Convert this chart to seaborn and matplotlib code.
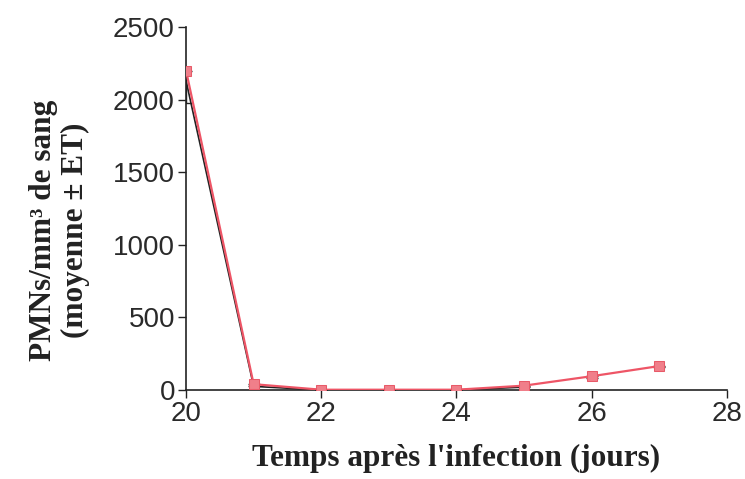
import matplotlib
matplotlib.use("Agg")
import matplotlib.pyplot as plt
import seaborn as sns
import pandas as pd
import numpy as np

days = [20, 21, 22, 23, 24, 25, 26, 27]
pmn_mean = [2200, 40, 2, 2, 2, 30, 95, 165]
pmn_err_low = [220, 15, 2, 2, 2, 10, 10, 10]
ctrl_days = [20, 21, 22, 23, 24, 25]
ctrl_vals = [2130, 25, 0, 0, 0, 20]

x_ticks = [20, 22, 24, 26, 28]
y_ticks = [0, 500, 1000, 1500, 2000, 2500]

sns.set_theme(style="ticks")
plt.rcParams['font.family'] = ['Liberation Sans', 'DejaVu Sans']

fig = plt.figure(figsize=(7.45, 4.79), dpi=100)
ax = fig.add_axes([0.2497, 0.1858, 0.7261, 0.7578])

df = pd.DataFrame({"jour": days, "pmn": pmn_mean})
dfc = pd.DataFrame({"jour": ctrl_days, "pmn": ctrl_vals})

sns.lineplot(data=dfc, x="jour", y="pmn", ax=ax, color="#222222", lw=1.2, zorder=2)
ax.errorbar(days, pmn_mean, yerr=[pmn_err_low, [0]*len(days)], fmt="none",
            ecolor="#222222", elinewidth=1.0, capsize=4, zorder=2)
sns.lineplot(data=df, x="jour", y="pmn", ax=ax, color="#ee5566", lw=1.6,
             marker="s", markersize=7, markerfacecolor="#f07f8a",
             markeredgecolor="#e85a68", zorder=3)

ax.set_xlim(20, 28)
ax.set_ylim(0, 2500)
ax.set_xticks(x_ticks)
ax.set_yticks(y_ticks)
ax.tick_params(axis="both", labelsize=20, length=6, width=1, color="#222222",
               labelcolor="#2a2a2a", direction="out", pad=2)
for s in ["top", "right"]:
    ax.spines[s].set_visible(False)
for s in ["left", "bottom"]:
    ax.spines[s].set_color("#222222")
    ax.spines[s].set_linewidth(1.2)

ax.set_xlabel("Temps après l'infection (jours)", fontsize=22.5, fontweight="bold",
              family=["Liberation Serif", "DejaVu Serif"], color="#222222", labelpad=12)
ax.set_ylabel("PMNs/mm³ de sang\n(moyenne ± ET)", fontsize=22.5, fontweight="bold",
              family=["Liberation Serif", "DejaVu Serif"], color="#222222",
              linespacing=1.15)
ax.yaxis.set_label_coords(-0.177, 0.44)

fig.savefig("out.png", dpi=100)
